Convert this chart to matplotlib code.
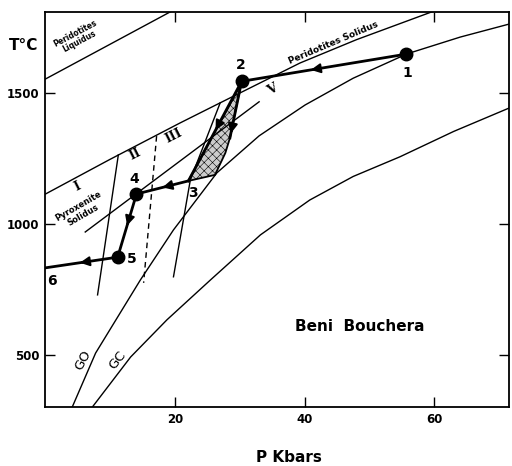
import numpy as np
import matplotlib
matplotlib.use('Agg')
import matplotlib.pyplot as plt

# curves (P in kbar, T in deg C)
liq_P = [0, 25]
liq_T = [1551, 1884]

sol_P = [0, 10, 20.8, 27, 39.3, 48, 56.2, 62]
sol_T = [1112, 1245, 1384, 1461, 1613, 1702, 1777, 1830]

pyx_P = [6.2, 33.0]
pyx_T = [968, 1465]

go_P = [4.2, 7.8, 12.1, 14.7, 19.8, 26.5, 33.0, 40.1, 47.5, 55.8, 64.0, 72.2]
go_T = [300, 506, 680, 785, 976, 1194, 1335, 1453, 1555, 1648, 1712, 1766]

gc_P = [7.3, 13.2, 18.8, 25.5, 33.2, 40.8, 47.5, 54.7, 63.0, 71.9]
gc_T = [300, 491, 633, 785, 957, 1090, 1180, 1255, 1352, 1445]

# field boundaries
b12_P = [11.3, 8.1]
b12_T = [1262, 728]
b23_P = [17.2, 15.2]
b23_T = [1334, 774]
b34_P = [27.0, 22.4, 19.8]
b34_T = [1461, 1167, 797]

# P-T path
pt_labels = ['1', '2', '4', '5', '6']
pt_P = [55.7, 30.3, 14.1, 11.2, 0.0]
pt_T = [1647, 1543, 1113, 872, 831]

# hatched field
hatch_P = [30.2, 28.5, 27.8, 26.2, 22.1]
hatch_T = [1533, 1327, 1270, 1186, 1163]

fig = plt.figure(figsize=(5.12, 4.66), dpi=100)
ax = fig.add_axes([0.0879, 0.126, 0.9061, 0.849])
ax.set_xlim(0, 71.5)
ax.set_ylim(299, 1809)

lw = 1.0
ax.plot(liq_P, liq_T, 'k-', lw=lw)
ax.plot(sol_P, sol_T, 'k-', lw=lw)
ax.plot(pyx_P, pyx_T, 'k-', lw=lw)
ax.plot(go_P, go_T, 'k-', lw=lw)
ax.plot(gc_P, gc_T, 'k-', lw=lw)
ax.plot(b12_P, b12_T, 'k-', lw=lw)
ax.plot(b23_P, b23_T, 'k--', lw=lw, dashes=(4, 3))
ax.plot(b34_P, b34_T, 'k-', lw=lw)

plt.rcParams['hatch.linewidth'] = 0.4
ax.fill(hatch_P, hatch_T, facecolor='0.8', edgecolor='k', hatch='xxxx', lw=1.3)

# path 1 -> 2
ax.plot(pt_P[:2], pt_T[:2], 'k-', lw=2)
# 2 -> down the two edges of the hatched field
ax.plot([pt_P[1], hatch_P[4]], [pt_T[1], hatch_T[4]], 'k-', lw=2)
ax.plot([pt_P[1], hatch_P[1]], [pt_T[1], hatch_T[1]], 'k-', lw=2)
# field -> 4 -> 5 -> 6
ax.plot([hatch_P[4]] + pt_P[2:], [hatch_T[4]] + pt_T[2:], 'k-', lw=2)
ax.plot(pt_P[:4], pt_T[:4], 'o', color='k', ms=9, ls='none')


def arrow(p0, p1, t):
    a = np.array(p0, dtype=float)
    b = np.array(p1, dtype=float)
    tip = a + (b - a) * t
    tail = a + (b - a) * (t - 0.04)
    ax.annotate('', xy=tip, xytext=tail,
                arrowprops=dict(arrowstyle='-|>', color='k', lw=1.5,
                                mutation_scale=14, shrinkA=0, shrinkB=0))


arrow((pt_P[0], pt_T[0]), (pt_P[1], pt_T[1]), 0.58)
arrow((pt_P[1], pt_T[1]), (hatch_P[4], hatch_T[4]), 0.49)
arrow((pt_P[1], pt_T[1]), (hatch_P[1], hatch_T[1]), 0.92)
arrow((hatch_P[4], hatch_T[4]), (pt_P[2], pt_T[2]), 0.5)
arrow((pt_P[2], pt_T[2]), (pt_P[3], pt_T[3]), 0.5)
arrow((pt_P[3], pt_T[3]), (pt_P[4], pt_T[4]), 0.52)

bold = dict(fontweight='bold', color='k')
ax.text(55.9, 1575, '1', ha='center', va='center', fontsize=10, **bold)
ax.text(30.2, 1605, '2', ha='center', va='center', fontsize=10, **bold)
ax.text(22.8, 1117, '3', ha='center', va='center', fontsize=10, **bold)
ax.text(13.8, 1170, '4', ha='center', va='center', fontsize=10, **bold)
ax.text(13.4, 866, '5', ha='center', va='center', fontsize=10, **bold)
ax.text(1.0, 782, '6', ha='center', va='center', fontsize=10, **bold)

ax.text(5.0, 1709, 'Peridotites\nLiquidus', rotation=28, ha='center', va='center',
        fontsize=5.5, linespacing=1.0, **bold)
ax.text(44.4, 1690, 'Peridotites Solidus', rotation=23, ha='center', va='center',
        fontsize=6.5, **bold)
ax.text(5.5, 1050, 'Pyroxenite\nSolidus', rotation=30, ha='center', va='center',
        fontsize=6, linespacing=1.1, **bold)
ax.text(5.0, 1142, 'I', rotation=27, ha='center', va='center', fontsize=9,
        family='DejaVu Serif', **bold)
ax.text(13.9, 1266, 'II', rotation=27, ha='center', va='center', fontsize=9,
        family='DejaVu Serif', **bold)
ax.text(19.8, 1336, 'III', rotation=27, ha='center', va='center', fontsize=9,
        family='DejaVu Serif', **bold)
ax.text(35.0, 1510, 'V', rotation=30, ha='center', va='center', fontsize=9,
        family='DejaVu Serif', **bold)
ax.text(5.9, 479, 'GO', rotation=62, ha='center', va='center', fontsize=9.5)
ax.text(11.1, 479, 'GC', rotation=52, ha='center', va='center', fontsize=9.5)
ax.text(48.5, 606, 'Beni  Bouchera', ha='center', va='center', fontsize=11, **bold)

ax.set_xticks([20, 40, 60])
ax.set_yticks([500, 1000, 1500])
ax.tick_params(direction='in', length=7, width=1, top=True, right=True,
               labelsize=8.5, pad=4)
for lab in ax.get_xticklabels() + ax.get_yticklabels():
    lab.set_fontweight('bold')
for s in ax.spines.values():
    s.set_linewidth(1.3)

fig.text(289 / 512, 1 - 457 / 466, 'P Kbars', ha='center', va='center', fontsize=11, **bold)
fig.text(24 / 512, 1 - 45 / 466, 'T°C', ha='center', va='center', fontsize=11, **bold)

fig.savefig('out.png', dpi=100)
